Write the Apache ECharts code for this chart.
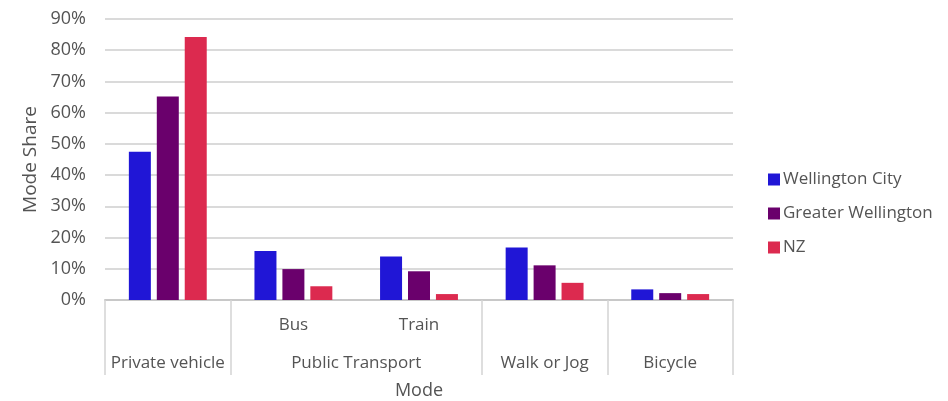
<!DOCTYPE html>
<html><head><meta charset="utf-8">
<script src="https://cdn.jsdelivr.net/npm/echarts@6/dist/echarts.min.js"></script>
<style>html,body{margin:0;padding:0;background:#fff}#c{width:948px;height:401px}</style>
</head><body><div id="c"></div>
<script>
const categories = ['Private vehicle', 'Bus', 'Train', 'Walk or Jog', 'Bicycle'];
const subLabels = ['', 'Bus', 'Train', '', ''];
const groupLabels = ['Private vehicle', 'Public Transport', 'Walk or Jog', 'Bicycle'];
const groupCenters = [0.5, 2, 3.5, 4.5];
const groupDividers = [0, 1, 3, 4, 5];
const wellingtonCity = [47.5, 15.7, 13.9, 16.8, 3.4];
const greaterWellington = [65.2, 9.9, 9.2, 11.1, 2.2];
const nz = [84.2, 4.4, 1.9, 5.5, 1.9];
const yTicks = [0, 10, 20, 30, 40, 50, 60, 70, 80, 90];

const txt = '#545454';
const font = 'Open Sans';
const chart = echarts.init(document.getElementById('c'));
chart.setOption({
  animation: false,
  textStyle: { fontFamily: font },
  grid: { left: 105, right: 215, top: 19, bottom: 101, containLabel: false, outerBoundsMode: 'none' },
  legend: {
    orient: 'vertical', left: 763, top: 166,
    itemWidth: 12, itemHeight: 12, itemGap: 17,
    icon: 'rect',
    textStyle: { color: txt, fontSize: 17, fontFamily: font, padding: [0, 0, 0, -2] },
    data: ['Wellington City', 'Greater Wellington', 'NZ']
  },
  xAxis: [
    {
      type: 'category', data: categories, position: 'bottom',
      axisLine: { show: false }, axisTick: { show: false },
      axisLabel: { formatter: (v, i) => subLabels[i], color: txt, fontSize: 17, margin: 17 }
    },
    {
      type: 'value', min: 0, max: 5, position: 'bottom',
      name: 'Mode', nameLocation: 'middle', nameGap: 82,
      nameTextStyle: { color: txt, fontSize: 18 },
      splitLine: { show: false },
      axisLine: { show: true, lineStyle: { color: '#c8c8c8', width: 2 } },
      axisTick: { show: true, customValues: groupDividers, length: 75, lineStyle: { color: '#d4d4d4', width: 1.5 } },
      axisLabel: {
        customValues: groupCenters, margin: 55, color: txt, fontSize: 17,
        formatter: v => groupLabels[groupCenters.indexOf(v)]
      }
    }
  ],
  yAxis: {
    type: 'value', min: 0, max: 90, interval: 10,
    name: 'Mode Share', nameLocation: 'middle', nameGap: 62,
    nameTextStyle: { color: txt, fontSize: 19 },
    axisLine: { show: false }, axisTick: { show: false },
    axisLabel: { color: txt, fontSize: 18, margin: 19, formatter: v => v + '%' },
    splitLine: { lineStyle: { color: '#dadada', width: 2 } }
  },
  series: [
    { name: 'Wellington City', type: 'bar', data: wellingtonCity, barWidth: 22, barGap: '27%', itemStyle: { color: '#2016d6' } },
    { name: 'Greater Wellington', type: 'bar', data: greaterWellington, barWidth: 22, barGap: '27%', itemStyle: { color: '#6a006c' } },
    { name: 'NZ', type: 'bar', data: nz, barWidth: 22, barGap: '27%', itemStyle: { color: '#dc2a4f' } }
  ]
});
</script></body></html>
